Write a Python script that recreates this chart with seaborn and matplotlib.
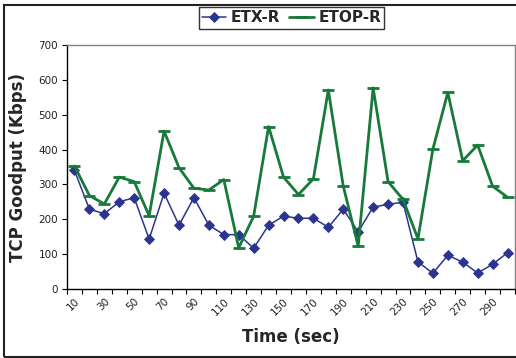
import numpy as np
import pandas as pd
import matplotlib
matplotlib.use("Agg")
import matplotlib.pyplot as plt
import seaborn as sns
from matplotlib.patches import Rectangle

times = [10, 20, 30, 40, 50, 60, 70, 80, 90, 100, 110, 120, 130, 140, 150,
         160, 170, 180, 190, 200, 210, 220, 230, 240, 250, 260, 270, 280, 290, 300]
etx_r = [340, 229, 216, 250, 262, 143, 275, 183, 262, 183, 156, 156, 117, 183, 209,
         203, 203, 177, 229, 164, 235, 243, 249, 78, 45, 97, 77, 46, 71, 104]
etop_r = [353, 268, 244, 321, 308, 210, 453, 348, 289, 284, 314, 118, 209, 466, 321,
          271, 316, 571, 295, 123, 577, 308, 257, 144, 401, 564, 368, 413, 295, 263]
tick_labels = [str(t) for t in times[::2]]
yticks = [0, 100, 200, 300, 400, 500, 600, 700]

blue = "#2B3590"
green = "#17793A"

df = pd.DataFrame({"Time": times * 2,
                   "Goodput": etx_r + etop_r,
                   "Series": ["ETX-R"] * len(times) + ["ETOP-R"] * len(times)})

sns.set_style("white")
plt.rcParams["font.family"] = ["DejaVu Sans"]

fig = plt.figure(figsize=(5.16, 3.58), dpi=100)
ax = fig.add_axes([67/516, 1-289/358, (515-67)/516, (289-45)/358])

sns.lineplot(data=df[df.Series == "ETX-R"], x="Time", y="Goodput", ax=ax,
             color=blue, lw=1.1, marker="D", markersize=5.6, markeredgecolor=blue,
             markeredgewidth=0.6, label="ETX-R", legend=False)
sns.lineplot(data=df[df.Series == "ETOP-R"], x="Time", y="Goodput", ax=ax,
             color=green, lw=2.0, marker="_", markersize=8.5, markeredgecolor=green,
             markeredgewidth=2.0, label="ETOP-R", legend=False)

ax.set_xlim(5, 305)
ax.set_ylim(0, 700)
ax.set_yticks(yticks)
ax.set_yticklabels([str(v) for v in yticks], fontsize=7.5, color="#222222")
ax.set_xticks(np.arange(5, 306, 10))
ax.set_xticklabels([])
ax.set_xticks(times[::2], minor=True)
ax.set_xticklabels(tick_labels, minor=True, rotation=45, ha="right",
                   rotation_mode="anchor", fontsize=7.5, color="#222222")
ax.tick_params(axis="x", which="major", direction="out", length=3.5, width=0.8,
               color="black", bottom=True)
ax.tick_params(axis="x", which="minor", length=0, pad=5)
ax.tick_params(axis="y", direction="out", length=3.5, width=0.8, color="black",
               left=True, pad=3)

for s in ["left", "bottom"]:
    ax.spines[s].set_color("black")
    ax.spines[s].set_linewidth(1.0)
for s in ["top", "right"]:
    ax.spines[s].set_color("#808080")
    ax.spines[s].set_linewidth(1.0)

ax.set_xlabel("Time (sec)", fontsize=12, fontweight="bold", labelpad=8)
ax.set_ylabel("TCP Goodput (Kbps)", fontsize=12, fontweight="bold", labelpad=8)

handles, labels = ax.get_legend_handles_labels()
leg = fig.legend(handles, labels, loc="center", bbox_to_anchor=(291.5/516, 1-18/358),
                 ncol=2, frameon=True, fancybox=False, edgecolor="black",
                 prop={"size": 11, "weight": "bold"}, handlelength=1.6,
                 handletextpad=0.3, columnspacing=0.6, borderpad=0.2,
                 borderaxespad=0)
leg.get_frame().set_linewidth(1.0)

fig.patches.append(Rectangle((4/516, 1/358), 1.0, 352.5/358, transform=fig.transFigure,
                             fill=False, edgecolor="#222222", linewidth=1.5))

fig.savefig("out.png", dpi=100)
